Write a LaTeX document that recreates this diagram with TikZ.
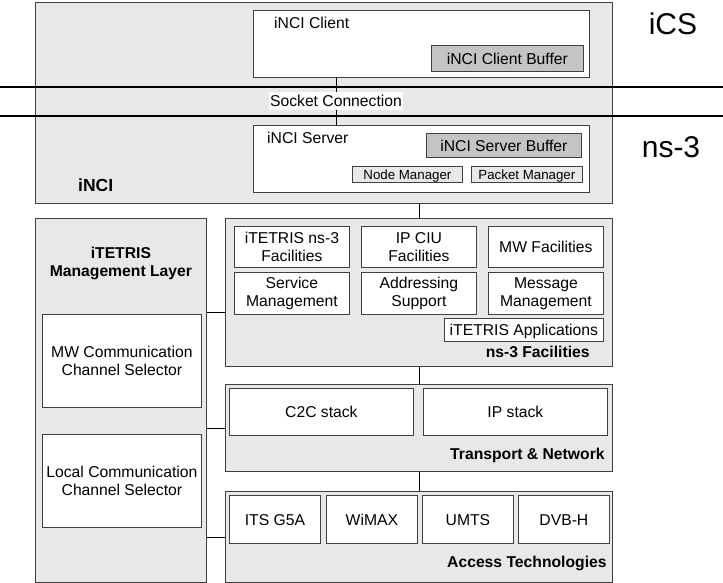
\documentclass[tikz,border=0pt]{standalone}
\usepackage{fontspec}
\setmainfont{Liberation Sans}
\usepackage{xcolor}
\usetikzlibrary{positioning,calc}
\definecolor{panelgray}{HTML}{E8E8E8}
\definecolor{buffergray}{HTML}{C4C4C4}
\definecolor{edgegray}{HTML}{404040}

\begin{document}
\begin{tikzpicture}[
    x=1pt, y=-1pt,
    font=\fontsize{15.7}{18}\selectfont,
    panel/.style={rectangle, draw=edgegray, line width=0.8pt, fill=panelgray, anchor=north west, inner sep=0pt},
    block/.style={rectangle, draw=edgegray, line width=0.8pt, fill=white, anchor=north west, inner sep=0pt, align=center},
    solo/.style={block, text height=11.5pt, text depth=0pt},
    buffer/.style={solo, fill=buffergray},
    manager/.style={block, fill=panelgray, font=\fontsize{13.3}{16}\selectfont, text height=9.8pt, text depth=0pt},
    tag/.style={inner sep=0pt, text depth=0pt},
    title/.style={tag, font=\fontsize{15.7}{18}\selectfont\bfseries, align=center},
    sidelabel/.style={inner sep=0pt, font=\fontsize{30}{36}\selectfont},
    link/.style={draw=black, line width=0.8pt},
    split/.style={draw=black, line width=1.6pt}
]
    \useasboundingbox (0,0) rectangle (723,583);

    % iNCI part
    \node[panel, minimum width=577pt, minimum height=201pt] (inci) at (35,2) {};
    \node[block, minimum width=336pt, minimum height=67pt] (client) at (253,10) {};
    \node[buffer, minimum width=152pt, minimum height=26pt] (clientbuf) at (431,45) {iNCI Client Buffer};
    \node[tag, below right=7pt and 21pt of client.north west] (clientlbl) {iNCI Client};

    \node[block, minimum width=336pt, minimum height=67pt] (server) at (253,125) {};
    \node[buffer, minimum width=155pt, minimum height=24pt] (serverbuf) at (426,133) {iNCI Server Buffer};
    \node[manager, minimum width=110pt, minimum height=16pt] (nodemgr) at (352,166) {Node Manager};
    \node[manager, minimum width=111pt, minimum height=16pt] (pktmgr) at (471,166) {Packet Manager};
    \node[tag, below right=7pt and 14pt of server.north west] (serverlbl) {iNCI Server};
    \node[title, font=\fontsize{17.5}{20}\selectfont\bfseries, above right=12pt and 43pt of inci.south west] (incilbl) {iNCI};

    % iCS / ns-3 split
    \coordinate (icsleft) at (0,87);
    \coordinate (icsright) at (723,87);
    \coordinate (nsleft) at (0,116);
    \coordinate (nsright) at (723,116);
    \draw[split] (icsleft) -- (icsright);
    \draw[split] (nsleft) -- (nsright);

    \node[tag, fill=white, inner xsep=1.5pt, inner ysep=3pt] (socket) at (336,101) {Socket Connection};
    \draw[link] (client.south -| socket) -- (socket.north);
    \draw[link] (socket.south) -- (server.north -| socket);

    \node[sidelabel] (ics) at (673,24) {iCS};
    \node[sidelabel] (ns) at (671,147) {ns-3};

    % management layer
    \node[panel, minimum width=171pt, minimum height=364pt] (mgmt) at (35,218) {};
    \node[title, below=29pt of mgmt.north] (mgmtlbl) {iTETRIS\\Management Layer};
    \node[block, minimum width=159pt, minimum height=93pt] (mwsel) at (42,314) {MW Communication\\Channel Selector};
    \node[block, minimum width=159pt, minimum height=93pt] (localsel) at (42,434) {Local Communication\\Channel Selector};

    % ns-3 facilities
    \node[panel, minimum width=387pt, minimum height=148pt] (facil) at (225,218) {};
    \node[block, minimum width=115pt, minimum height=41pt] (nsfac) at (234,226) {iTETRIS ns-3\\Facilities};
    \node[block, minimum width=115pt, minimum height=41pt] (ipciu) at (361,226) {IP CIU\\Facilities};
    \node[solo, minimum width=115pt, minimum height=41pt] (mwfac) at (488,226) {MW Facilities};
    \node[block, minimum width=115pt, minimum height=42pt] (service) at (234,272) {Service\\Management};
    \node[block, minimum width=115pt, minimum height=42pt] (addressing) at (361,272) {Addressing\\Support};
    \node[block, minimum width=115pt, minimum height=42pt] (message) at (488,272) {Message\\Management};
    \node[solo, minimum width=159pt, minimum height=23pt] (apps) at (444,318) {iTETRIS Applications};
    \node[title, above left=9pt and 23pt of facil.south east] (facillbl) {ns-3 Facilities};

    % transport & network
    \node[panel, minimum width=387pt, minimum height=87pt] (transport) at (225,384) {};
    \node[solo, minimum width=184pt, minimum height=47pt] (c2c) at (229,388) {C2C stack};
    \node[solo, minimum width=184pt, minimum height=47pt] (ipstack) at (423,388) {IP stack};
    \node[title, above left=12pt and 8pt of transport.south east] (translbl) {Transport \& Network};

    % access technologies
    \node[panel, minimum width=387pt, minimum height=91pt] (access) at (225,491) {};
    \node[solo, minimum width=91pt, minimum height=48pt] (itsg5a) at (229,495) {ITS G5A};
    \node[solo, minimum width=91pt, minimum height=48pt] (wimax) at (326,495) {WiMAX};
    \node[solo, minimum width=91pt, minimum height=48pt] (umts) at (422,495) {UMTS};
    \node[solo, minimum width=91pt, minimum height=48pt] (dvbh) at (518,495) {DVB-H};
    \node[title, above left=15pt and 6pt of access.south east] (accesslbl) {Access Technologies};

    % connectors
    \draw[link] (inci.south -| facil.north) -- (facil.north);
    \draw[link] (facil.south) -- (transport.north);
    \draw[link] (transport.south) -- (access.north);
    \coordinate (facilhook) at ([yshift=2pt]mwsel.north);
    \draw[link] (facilhook -| mgmt.east) -- (facilhook -| facil.west);
    \draw[link] (mgmt.east |- transport.west) -- (transport.west);
    \draw[link] (mgmt.east |- access.west) -- (access.west);
\end{tikzpicture}
\end{document}
